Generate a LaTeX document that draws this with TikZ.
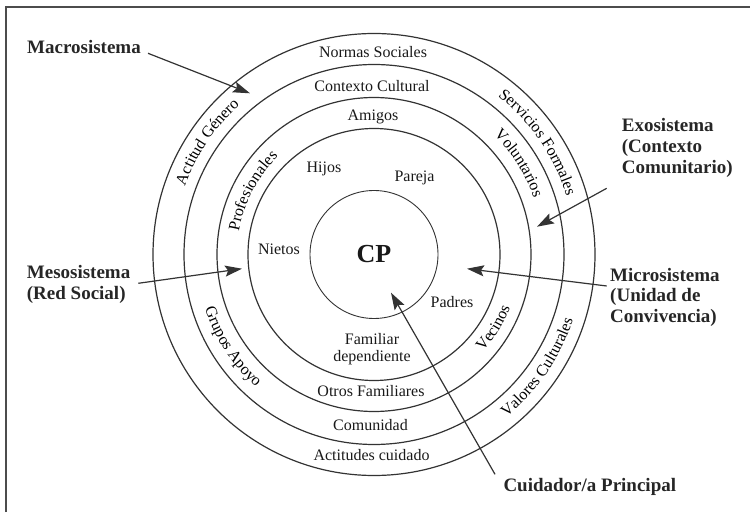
\documentclass[tikz,border=0pt]{standalone}
\usepackage{fontspec}
\setmainfont{Liberation Serif}
\usetikzlibrary{arrows.meta,decorations.text}
\newcommand\ringfont{\fontsize{16}{17.4}\selectfont}
\newcommand\labfont{\fontsize{19}{20.8}\selectfont\bfseries}
\newcommand\cpfont{\fontsize{26}{28}\selectfont\bfseries}
\begin{document}
\begin{tikzpicture}[x=1pt,y=1pt,
  ring/.style={draw=black!80, line width=1.2pt},
  txt/.style={font=\ringfont, inner sep=0pt, anchor=base, text=black!90, align=center},
  lab/.style={font=\labfont, inner sep=0pt, anchor=base west, align=left, text=black!85},
  arr/.style={draw=black!80, line width=1.2pt, -{Stealth[length=17pt,width=11pt,inset=3pt]}},
  ringtxt/.style={decorate, decoration={text along path, text align=center, text={|\ringfont|#1}}}]
\useasboundingbox (0,0) rectangle (750,512);
% frame (top and left edges only)
\draw[black!70, line width=1.6pt] (6,0) -- (6,505) -- (750,505);
% rings
\begin{scope}[shift={(374,257.5)}]
  \coordinate (C) at (0,0);
  \draw[ring] (C) circle (221pt);
  \draw[ring] (C) circle (190pt);
  \draw[ring] (C) circle (157pt);
  \draw[ring] (C) circle (126pt);
  \draw[ring, line width=0.9pt] (C) circle (64pt);
  % curved ring labels
  \path[ringtxt={Actitud Género}] (186:201pt) arc[start angle=186, end angle=106, radius=201pt];
  \path[ringtxt={Servicios Formales}] (74.4:201pt) arc[start angle=74.4, end angle=-5.6, radius=201pt];
  \path[ringtxt={Valores Culturales}] (-74.5:209.5pt) arc[start angle=-74.5, end angle=5.5, radius=209.5pt];
  \path[ringtxt={Voluntarios}] (72.2:169.5pt) arc[start angle=72.2, end angle=-7.8, radius=169.5pt];
  \path[ringtxt={Grupos Apoyo}] (173.1:177.5pt) arc[start angle=173.1, end angle=253.1, radius=177.5pt];
  \path[ringtxt={Profesionales}] (197.4:137pt) arc[start angle=197.4, end angle=107.4, radius=137pt];
  \path[ringtxt={Vecinos}] (-76.5:146pt) arc[start angle=-76.5, end angle=13.5, radius=146pt];
\end{scope}
% straight ring labels
\node[txt] (normas) at (373,454.5) {Normas Sociales};
\node[txt] (contexto) at (372,420.5) {Contexto Cultural};
\node[txt] (amigos) at (373,391.3) {Amigos};
\node[txt] (hijos) at (324,339) {Hijos};
\node[txt] (pareja) at (414.5,330.3) {Pareja};
\node[txt] (nietos) at (279,257) {Nietos};
\node[txt, font=\cpfont] (cp) at (374,249) {CP};
\node[txt] (padres) at (452,204.7) {Padres};
\node[txt] (familiar) at (372,150.3) {Familiar\\dependiente};
\node[txt] (otros) at (371,116) {Otros Familiares};
\node[txt] (comunidad) at (370.5,82) {Comunidad};
\node[txt] (actitudes) at (371.5,51.3) {Actitudes cuidado};
% system labels (base anchor = baseline of last line)
\node[lab] (macro) at (27,458.7) {Macrosistema};
\node[lab] (meso) at (26.7,212.7) {Mesosistema\\(Red Social)};
\node[lab] (exo) at (621.7,338.7) {Exosistema\\(Contexto\\Comunitario)};
\node[lab] (micro) at (610,189.3) {Microsistema\\(Unidad de\\Convivencia)};
\node[lab] (cuid) at (503.3,21) {Cuidador/a Principal};
% arrow ends
\coordinate (macroS) at (148,458.7);
\coordinate (macroT) at (250,418.7);
\coordinate (exoS) at (606.7,323.7);
\coordinate (exoT) at (537,285.3);
\coordinate (mesoS) at (138.3,228.7);
\coordinate (mesoT) at (242,243.3);
\coordinate (microS) at (606.7,226);
\coordinate (microT) at (467,243.3);
\coordinate (cuidS) at (495,37.7);
\coordinate (cuidT) at (391,219.3);
\draw[arr] (macroS) -- (macroT);
\draw[arr] (exoS) -- (exoT);
\draw[arr] (mesoS) -- (mesoT);
\draw[arr] (microS) -- (microT);
\draw[arr] (cuidS) -- (cuidT);
\end{tikzpicture}
\end{document}
